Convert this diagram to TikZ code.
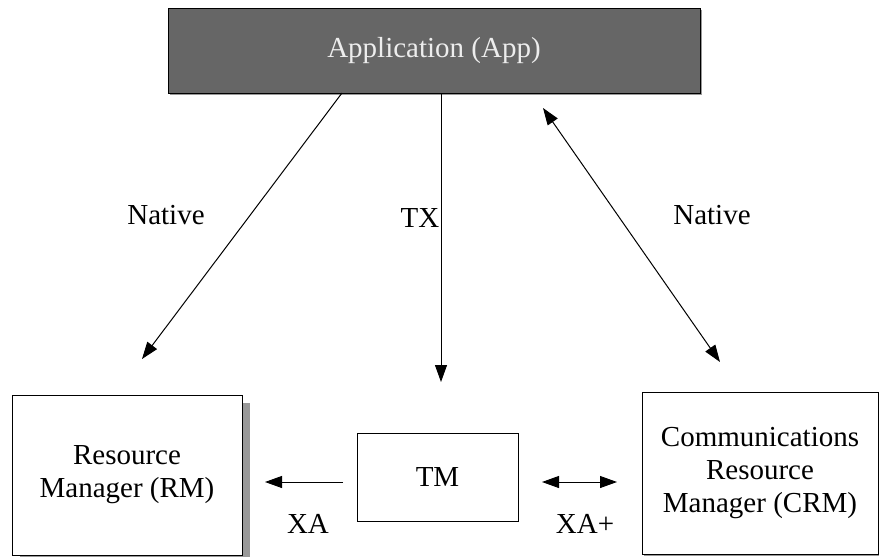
\documentclass[tikz,border=0pt]{standalone}
\usepackage{fontspec}
\setmainfont{Liberation Serif}
\usetikzlibrary{arrows.meta,shadows}
\definecolor{appfill}{HTML}{666666}
\definecolor{apptext}{HTML}{EDEDED}
\definecolor{shadowgray}{HTML}{999999}
\tikzset{
  box/.style={draw=black, line width=1pt, fill=white, rectangle, inner sep=0pt, align=center,
    font=\fontsize{29}{33}\selectfont},
  lbl/.style={inner sep=0pt, font=\fontsize{29}{33}\selectfont},
  conn/.style={line width=1pt, -{Triangle[length=17pt,width=12pt]}},
  conn2/.style={line width=1pt, {Triangle[length=17pt,width=12pt]}-{Triangle[length=17pt,width=12pt]}},
}
\begin{document}
\begin{tikzpicture}[x=1pt,y=-1pt]
\useasboundingbox (0,0) rectangle (879,557);
\node[box, fill=appfill, text=apptext, minimum width=532pt, minimum height=85pt,
  general shadow={fill=shadowgray, shadow xshift=2pt, shadow yshift=-2pt}] (app) at (434,50.5) {Application (App)};
\node[box, minimum width=230pt, minimum height=160pt,
  general shadow={fill=shadowgray, shadow xshift=8pt, shadow yshift=-8pt}] (rm) at (127,475) {Resource\\Manager (RM)};
\node[box, minimum width=161pt, minimum height=88pt] (tm) at (437.5,477) {TM};
\node[box, minimum width=236pt, minimum height=162pt,
  general shadow={fill=shadowgray, shadow xshift=2pt, shadow yshift=-2pt}] (crm) at (760,473) {Communications\\Resource\\Manager (CRM)};

\coordinate (n1s) at (342,93);
\coordinate (n1e) at (142,359);
\coordinate (txs) at (441,93);
\coordinate (txe) at (441,382);
\coordinate (n2s) at (543,108);
\coordinate (n2e) at (720,362);
\coordinate (xas) at (343,482);
\coordinate (xae) at (265,482);
\coordinate (xps) at (542,482);
\coordinate (xpe) at (617,482);

\draw[conn] (n1s) -- (n1e);
\draw[conn] (txs) -- (txe);
\draw[conn2] (n2s) -- (n2e);
\draw[conn] (xas) -- (xae);
\draw[conn2] (xps) -- (xpe);

\node[lbl] (lnat1) at (166,215) {Native};
\node[lbl] (ltx) at (420,218) {TX};
\node[lbl] (lnat2) at (712,215) {Native};
\node[lbl] (lxa) at (308,524) {XA};
\node[lbl] (lxap) at (585,524) {XA+};
\end{tikzpicture}
\end{document}
